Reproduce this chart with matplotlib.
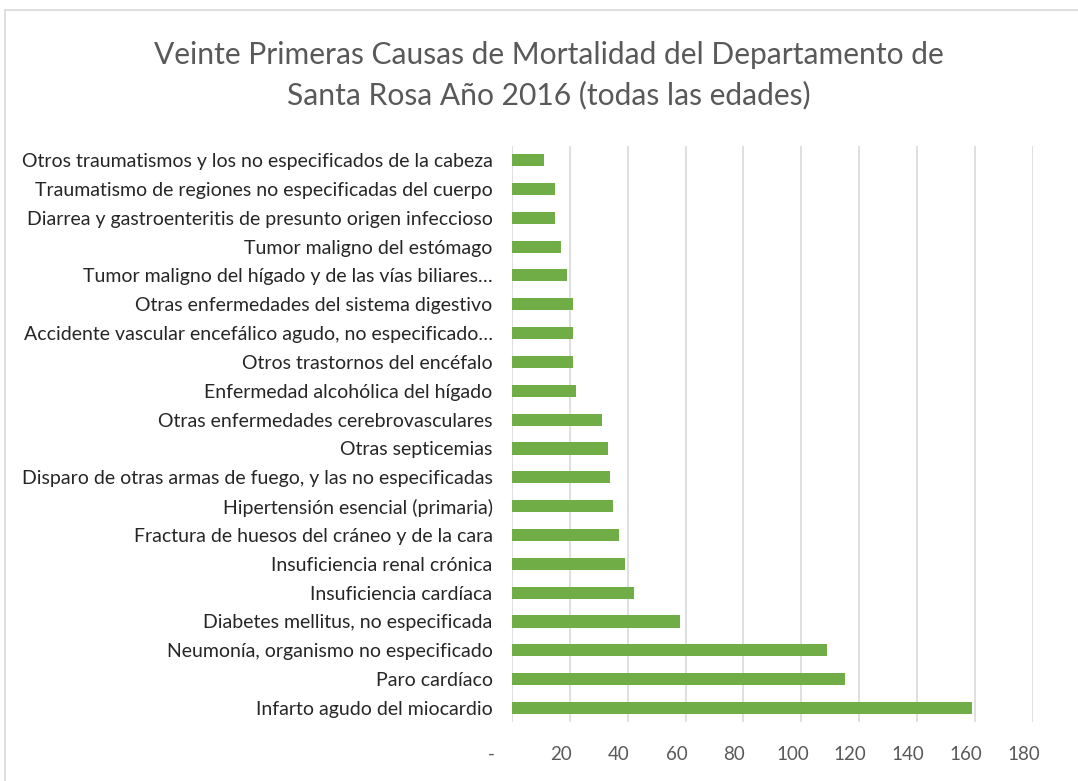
import matplotlib.pyplot as plt
import matplotlib.transforms as mtransforms
from matplotlib.patches import Rectangle

# causes, top to bottom as drawn in the chart
causes = [
    "Otros traumatismos y los no especificados de la cabeza",
    "Traumatismo de regiones no especificadas del cuerpo",
    "Diarrea y gastroenteritis de presunto origen infeccioso",
    "Tumor maligno del estómago",
    "Tumor maligno del hígado y de las vías biliares…",
    "Otras enfermedades del sistema digestivo",
    "Accidente vascular encefálico agudo, no especificado…",
    "Otros trastornos del encéfalo",
    "Enfermedad alcohólica del hígado",
    "Otras enfermedades cerebrovasculares",
    "Otras septicemias",
    "Disparo de otras armas de fuego, y las no especificadas",
    "Hipertensión esencial (primaria)",
    "Fractura de huesos del cráneo y de la cara",
    "Insuficiencia renal crónica",
    "Insuficiencia cardíaca",
    "Diabetes mellitus, no especificada",
    "Neumonía, organismo no especificado",
    "Paro cardíaco",
    "Infarto agudo del miocardio",
]
deaths = [11, 15, 15, 17, 19, 21, 21, 21, 22, 31,
          33, 34, 35, 37, 39, 42, 58, 109, 115, 159]

xticks = [0, 20, 40, 60, 80, 100, 120, 140, 160, 180]
xticklabels = ["-", "20", "40", "60", "80", "100", "120", "140", "160", "180"]

title = "Veinte Primeras Causas de Mortalidad del Departamento de\nSanta Rosa Año 2016 (todas las edades)"

plt.rcParams['font.family'] = ['Lato', 'DejaVu Sans']

fig = plt.figure(figsize=(10.78, 7.81), dpi=100)
ax = fig.add_axes([0.475, 0.075, 0.483, 0.7385])

# chart frame like the spreadsheet chart area
fig.patches.append(Rectangle((5 / 1078, -0.01), 1.1, 1 - 10 / 781 + 0.01,
                             transform=fig.transFigure, fill=False,
                             edgecolor='#d9d9d9', linewidth=1.2))

ypos = list(range(len(causes)))[::-1]
ax.barh(ypos, deaths, height=0.42, color='#70ad47', zorder=3)

ax.set_xlim(0, 180)
ax.set_ylim(-0.5, len(causes) - 0.5)
ax.set_xticks(xticks)
ax.set_xticklabels(xticklabels, fontsize=13.5, color='#595959')
ax.set_yticks(ypos)
ax.set_yticklabels(causes, fontsize=14, color='#262626')
ax.tick_params(axis='both', length=0)
ax.tick_params(axis='y', pad=14)
ax.tick_params(axis='x', pad=17)

# accounting-style number format shifts labels left
for lab, t in zip(ax.get_xticklabels(), xticks):
    dx = -21 if t == 0 else -9
    lab.set_transform(lab.get_transform() +
                      mtransforms.ScaledTranslation(dx / 100, 0, fig.dpi_scale_trans))

ax.grid(axis='x', color='#d9d9d9', linewidth=1.2, zorder=0)
for s in ax.spines.values():
    s.set_visible(False)

fig.text(0.509, 0.904, title, ha='center', va='center', fontsize=21.6,
         color='#595959', linespacing=1.5)

fig.savefig('out.png', dpi=100)
